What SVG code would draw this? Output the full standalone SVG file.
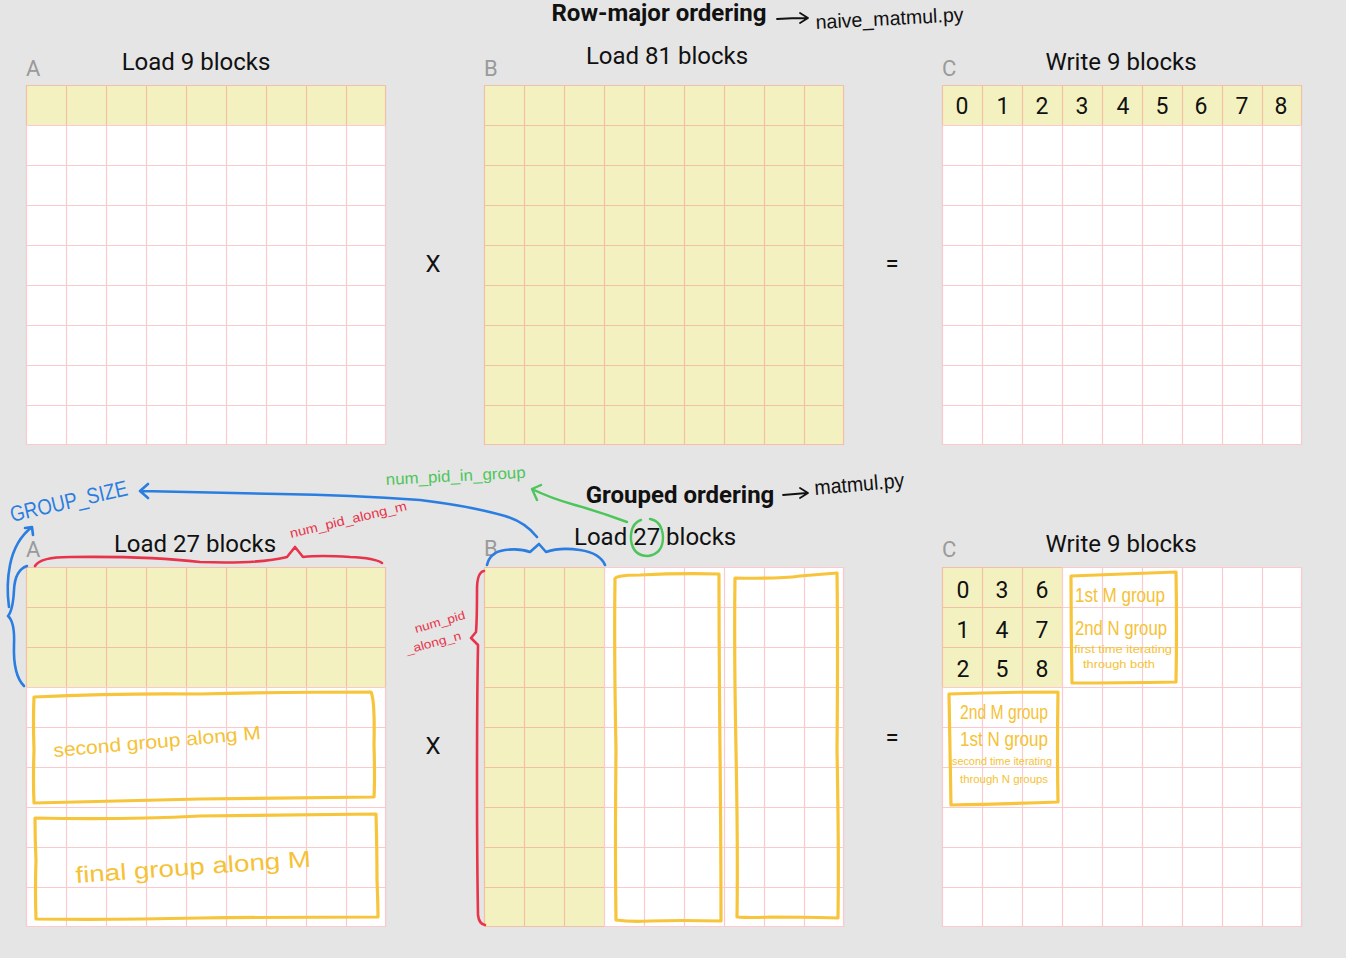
<svg xmlns="http://www.w3.org/2000/svg" width="1346" height="958" viewBox="0 0 1346 958">
<style>
.bg{fill:#e5e5e5}
.cell{fill:#ffffff}
.hl{fill:#f4f1c1}
.gl{fill:none;stroke:rgb(240,95,105);stroke-opacity:0.33;stroke-width:1.2}
.t{font-family:Roboto,"Liberation Sans",sans-serif;font-size:24px;fill:#111}
.b{font-family:Roboto,"Liberation Sans",sans-serif;font-size:24px;font-weight:bold;fill:#111}
.lab{font-family:Roboto,"Liberation Sans",sans-serif;font-size:22px;fill:#9a9a9a}
.n{font-family:Roboto,"Liberation Sans",sans-serif;font-size:23px;fill:#111;text-anchor:middle}
.hw{font-family:"Liberation Sans",sans-serif}
.ink{fill:none;stroke-linecap:round;stroke-linejoin:round}
.yb{fill:none;stroke:#f7c53c;stroke-width:3.2;stroke-linecap:round;stroke-linejoin:round}
.yt{fill:#f5c236}
</style>
<defs>
<g id="grid"><path class="gl" d="M0.5 0V360M40.5 0V360M80.5 0V360M120.5 0V360M160.5 0V360M200.5 0V360M240.5 0V360M280.5 0V360M320.5 0V360M359.5 0V360M0 0.5H360M0 40.5H360M0 80.5H360M0 120.5H360M0 160.5H360M0 200.5H360M0 240.5H360M0 280.5H360M0 320.5H360M0 359.5H360"/></g>
</defs>
<rect class="bg" x="0" y="0" width="1346" height="958"/>

<g id="title-top">
<text class="b" x="659" y="21" text-anchor="middle">Row-major ordering</text>
<path class="ink" stroke="#111" stroke-width="1.8" d="M777 19 Q792 18 807 18 M800 13 L808 18 L800 23"/>
<text class="hw" x="816" y="29" font-size="20" fill="#111" transform="rotate(-3 816 29)" textLength="148" lengthAdjust="spacingAndGlyphs">naive_matmul.py</text>
</g>

<g id="top-A">
<rect class="cell" x="26" y="85" width="360" height="360"/>
<rect class="hl" x="26" y="85" width="360" height="40"/>
<use href="#grid" x="26" y="85"/>
<text class="lab" x="26" y="76">A</text>
<text class="t" x="196" y="70" text-anchor="middle">Load 9 blocks</text>
</g>

<g id="top-B">
<rect class="hl" x="484" y="85" width="360" height="360"/>
<use href="#grid" x="484" y="85"/>
<text class="lab" x="484" y="76">B</text>
<text class="t" x="667" y="64" text-anchor="middle">Load 81 blocks</text>
</g>

<g id="top-C">
<rect class="cell" x="942" y="85" width="360" height="360"/>
<rect class="hl" x="942" y="85" width="360" height="40"/>
<use href="#grid" x="942" y="85"/>
<text class="lab" x="942" y="76">C</text>
<text class="t" x="1121" y="70" text-anchor="middle">Write 9 blocks</text>
<text class="n" x="962" y="114">0</text>
<text class="n" x="1003" y="114">1</text>
<text class="n" x="1042" y="114">2</text>
<text class="n" x="1082" y="114">3</text>
<text class="n" x="1123" y="114">4</text>
<text class="n" x="1162" y="114">5</text>
<text class="n" x="1201" y="114">6</text>
<text class="n" x="1242" y="114">7</text>
<text class="n" x="1281" y="114">8</text>
</g>

<g id="ops-top">
<text class="t" x="433" y="272" text-anchor="middle">X</text>
<text class="t" x="892" y="272" text-anchor="middle">=</text>
</g>

<g id="title-bottom">
<text class="b" x="680" y="503" text-anchor="middle">Grouped ordering</text>
<path class="ink" stroke="#111" stroke-width="1.8" d="M783 495 Q795 494 807 493 M800 488 L808 493 L800 498"/>
<text class="hw" x="815" y="495" font-size="21" fill="#111" transform="rotate(-5 815 495)" textLength="90" lengthAdjust="spacingAndGlyphs">matmul.py</text>
</g>

<g id="bottom-A">
<rect class="cell" x="26" y="567" width="360" height="360"/>
<rect class="hl" x="26" y="567" width="360" height="120"/>
<use href="#grid" x="26" y="567"/>
<text class="lab" x="26" y="557">A</text>
<text class="t" x="195" y="552" text-anchor="middle">Load 27 blocks</text>
<path class="yb" d="M34 697 Q120 693 200 694 Q290 692 371 692 Q375 700 374 745 Q375 780 374 797 Q290 798 200 799 Q110 801 34 803 Q33 780 34 750 Q33 720 34 697 Z"/>
<text class="hw yt" x="54" y="757" font-size="19" transform="rotate(-5 54 757)" textLength="208" lengthAdjust="spacingAndGlyphs">second  group  along  M</text>
<path class="yb" d="M35 818 Q120 820 200 816 Q290 815 376 814 Q377 850 377 880 Q378 905 378 917 Q290 917 200 918 Q110 920 36 919 Q35 890 36 860 Q35 840 35 818 Z"/>
<text class="hw yt" x="76" y="883" font-size="23" transform="rotate(-4 76 883)" textLength="236" lengthAdjust="spacingAndGlyphs">final  group  along   M</text>
</g>

<g id="bottom-B">
<rect class="cell" x="484" y="567" width="360" height="360"/>
<rect class="hl" x="484" y="567" width="120" height="360"/>
<use href="#grid" x="484" y="567"/>
<text class="lab" x="484" y="556">B</text>
<text class="t" x="574" y="545">Load 27 blocks</text>
<path class="yb" d="M615 580 Q613 575 640 575 Q680 573 719 574 Q719 650 720 750 Q721 850 721 921 Q680 920 650 921 Q630 922 616 920 Q615 850 616 750 Q614 650 615 580"/>
<path class="yb" d="M735 578 Q780 579 800 576 Q825 574 837 573 Q838 650 837 750 Q839 850 838 918 Q800 917 770 917 Q750 918 737 917 Q738 850 736 750 Q734 650 735 578 Z"/>
</g>

<g id="bottom-C">
<rect class="cell" x="942" y="567" width="360" height="360"/>
<rect class="hl" x="942" y="567" width="120" height="120"/>
<use href="#grid" x="942" y="567"/>
<text class="lab" x="942" y="557">C</text>
<text class="t" x="1121" y="552" text-anchor="middle">Write 9 blocks</text>
<text class="n" x="963" y="598">0</text>
<text class="n" x="1002" y="598">3</text>
<text class="n" x="1042" y="598">6</text>
<text class="n" x="963" y="638">1</text>
<text class="n" x="1002" y="638">4</text>
<text class="n" x="1042" y="638">7</text>
<text class="n" x="963" y="677">2</text>
<text class="n" x="1002" y="677">5</text>
<text class="n" x="1042" y="677">8</text>
<path class="yb" d="M1071 576 Q1120 574 1176 572 Q1177 630 1176 682 Q1120 683 1072 683 Q1071 630 1071 576 Z"/>
<text class="hw yt" x="1075" y="602" font-size="20" textLength="90" lengthAdjust="spacingAndGlyphs">1st  M  group</text>
<text class="hw yt" x="1075" y="635" font-size="20" textLength="92" lengthAdjust="spacingAndGlyphs">2nd  N  group</text>
<text class="hw yt" x="1074" y="653" font-size="10" textLength="98" lengthAdjust="spacingAndGlyphs">first time iterating</text>
<text class="hw yt" x="1083" y="668" font-size="10" textLength="72" lengthAdjust="spacingAndGlyphs">through both</text>
<path class="yb" d="M949 694 Q1000 692 1058 692 Q1057 750 1058 802 Q1000 804 951 805 Q950 750 949 694 Z"/>
<text class="hw yt" x="960" y="719" font-size="20" textLength="88" lengthAdjust="spacingAndGlyphs">2nd  M  group</text>
<text class="hw yt" x="960" y="746" font-size="20" textLength="88" lengthAdjust="spacingAndGlyphs">1st  N  group</text>
<text class="hw yt" x="952" y="765" font-size="10" textLength="100" lengthAdjust="spacingAndGlyphs">second time iterating</text>
<text class="hw yt" x="960" y="783" font-size="10" textLength="88" lengthAdjust="spacingAndGlyphs">through  N  groups</text>
</g>

<g id="ops-bottom">
<text class="t" x="433" y="754" text-anchor="middle">X</text>
<text class="t" x="892" y="746" text-anchor="middle">=</text>
</g>

<g id="annotations">
<text class="hw" x="12" y="522" font-size="22" fill="#2a7de1" transform="rotate(-13 12 522)" textLength="120" lengthAdjust="spacingAndGlyphs">GROUP_SIZE</text>
<text class="hw" x="291" y="538" font-size="13" fill="#e8344a" transform="rotate(-13.5 291 538)" textLength="120" lengthAdjust="spacingAndGlyphs">num_pid_along_m</text>
<text class="hw" x="386" y="485" font-size="16" fill="#4cc55a" transform="rotate(-3 386 485)" textLength="140" lengthAdjust="spacingAndGlyphs">num_pid_in_group</text>
<text class="hw" x="416" y="633" font-size="12" fill="#e8344a" transform="rotate(-16 416 633)" textLength="52" lengthAdjust="spacingAndGlyphs">num_pid</text>
<text class="hw" x="407" y="654" font-size="12" fill="#e8344a" transform="rotate(-15 407 654)" textLength="57" lengthAdjust="spacingAndGlyphs">_along_n</text>
</g>

<g id="connectors">
<path class="ink" stroke="#2a7de1" stroke-width="2.6" d="M537 537 Q525 522 505 516 Q470 506 420 500 Q350 495 280 494 Q200 492 141 491 M148 484 L140 491 L148 498"/>
<path class="ink" stroke="#2a7de1" stroke-width="2.6" d="M487 565 Q490 552 505 550 Q520 548 530 552 L539 544 L546 552 Q560 547 580 550 Q600 553 605 565"/>
<path class="ink" stroke="#2a7de1" stroke-width="2.6" d="M27 566 Q15 570 14 590 Q13 610 8 616 Q15 622 14 645 Q13 675 24 686"/>
<path class="ink" stroke="#2a7de1" stroke-width="2.6" d="M9 607 Q6 585 10 565 Q15 540 32 527 M25 528 L32 527 L33 535"/>
<path class="ink" stroke="#e8344a" stroke-width="2.6" d="M35 566 Q40 557 70 557 Q150 556 200 562 Q260 564 287 557 L295 547 L303 557 Q320 555 350 557 Q375 558 382 563"/>
<path class="ink" stroke="#e8344a" stroke-width="2.6" d="M484 571 Q477 572 477 590 Q477 620 476 632 L471 638 L478 645 Q477 700 477 780 Q477 860 478 915 Q479 924 485 925"/>
<path class="ink" stroke="#4cc55a" stroke-width="2.4" d="M641 520 Q630 524 631 540 Q633 556 648 556 Q663 554 663 537 Q662 521 650 519"/>
<path class="ink" stroke="#4cc55a" stroke-width="2.4" d="M627 522 Q600 512 575 505 Q550 498 532 489 M541 485 L532 489 L537 500"/>
</g>
</svg>
